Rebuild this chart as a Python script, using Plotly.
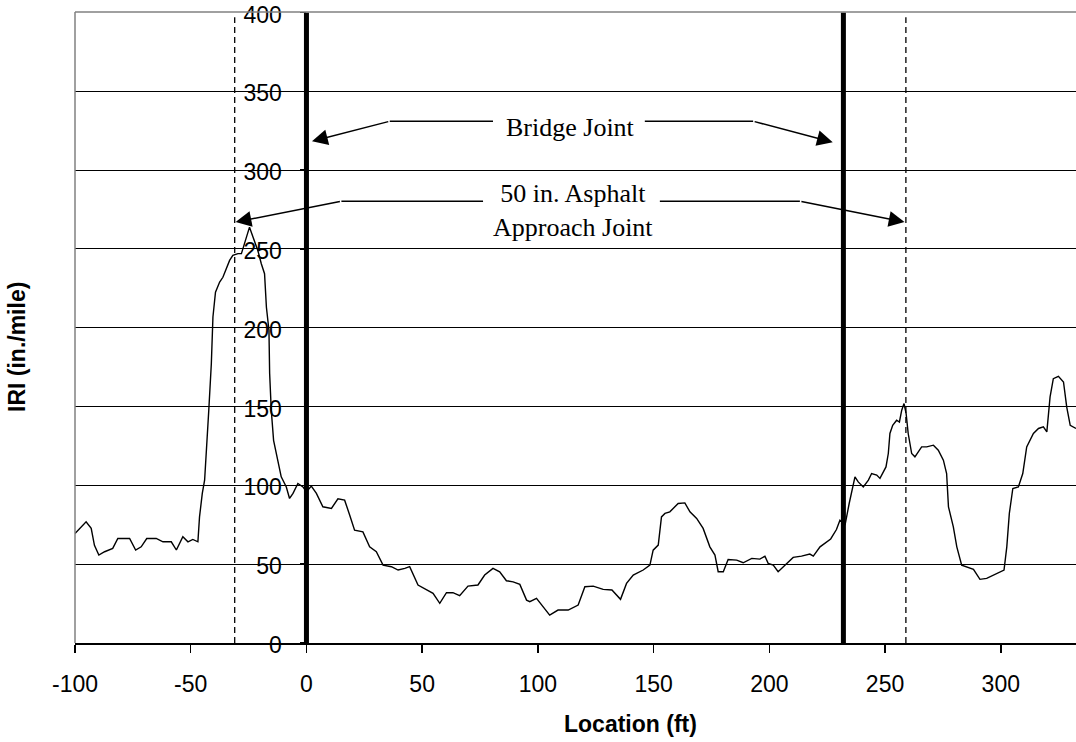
import plotly.graph_objects as go

# ---- data ----
location_ft = [-100, -95.2, -93, -91.6, -89.7, -87.2, -83.7, -81.5, -76.4, -73.8, -71.4, -69, -64.9, -62,
               -58.4, -56.2, -53.4, -51.2, -49.1, -46.9, -46.2, -45, -44, -43.3, -42.2, -41.1, -40.4, -39.3,
               -37.5, -36.1, -34.6, -33.2, -31.8, -29.6, -28.1, -26.7, -25.3, -24.6, -23.1, -21, -19.5, -18.1,
               -17.3, -16.2, -15.9, -15.2, -14.2, -12.3, -10.9, -8.7, -7.3, -5.8, -3.7, -1.5, 0, 2.1, 4.3, 7.1,
               10.8, 13.6, 16.5, 18.7, 20.8, 24.4, 27.3, 30.2, 33.1, 36.7, 39.6, 42.5, 44.6, 48.2, 51.8, 54.7,
               57.6, 60.5, 63.3, 66.2, 69.8, 74.1, 77, 80.6, 83.5, 86.4, 89.3, 92.2, 95.1, 96.5, 99.4, 102.2,
               105.1, 108.7, 113.1, 117.4, 120.3, 123.9, 128.2, 132, 135.7, 138.3, 141.2, 145.5, 148.4, 149.8,
               152, 153.4, 154.9, 157, 160.6, 163.5, 165.7, 168.6, 171.4, 174.3, 176.5, 177.9, 180.1, 182.2,
               185.9, 188.7, 192.4, 195.9, 198.1, 199.5, 201.7, 203.8, 206.7, 210.3, 213.9, 217.5, 219, 221.9,
               226.5, 229, 230.5, 232.7, 234.5, 236, 237, 238.4, 240.6, 242.8, 244.2, 246.4, 247.8, 250.4,
               251.4, 252.1, 253.3, 255, 256.2, 257.2, 258.2, 259.1, 260, 261.5, 262.9, 265.8, 268, 270.9, 273,
               275.2, 276.6, 277.4, 279.5, 281, 283.1, 288.2, 291, 293.9, 298.3, 301.4, 302.6, 303.7, 305.2,
               307.6, 309.5, 311.2, 314.1, 316.3, 318.4, 319.9, 321.3, 322.7, 324.9, 327.1, 328.5, 330, 332.5]
iri = [69.5, 76.9, 72.7, 62, 55.8, 57.9, 60, 66.3, 66.3, 59, 61, 66.3, 66.3, 64.2,
       64.2, 59, 67.4, 64.2, 65.7, 64.2, 80, 94.9, 103.3, 119, 147.7, 177, 206.8, 222.6,
       229, 232, 237.4, 242.7, 245.9, 247, 247, 253.3, 259.6, 263.8, 257.5, 249, 240.6, 234.3,
       213, 198.4, 171, 147.7, 128.6, 116, 105.4, 99, 91.7, 94.9, 101.2, 99, 95.9, 99.5, 94.9, 86.4,
       85.4, 91.5, 90.6, 81.1, 71.6, 70.5, 61, 57.9, 49.4, 48.4, 46.3, 47.3, 48.4, 36.8, 33.6, 31.5,
       25.2, 31.9, 31.9, 30, 36.1, 36.8, 43.1, 47.3, 45.2, 39.5, 38.8, 37.2, 27.2, 26.2, 28.3, 23,
       17.7, 20.9, 20.9, 24.1, 35.7, 36.1, 34, 33.6, 27.7, 37.8, 43.1, 46.3, 49.4, 58.9,
       62.1, 80, 82.2, 83.2, 88.5, 88.9, 83.2, 79, 72.7, 61, 55.8, 45.2, 45.2, 53,
       52.6, 50.9, 53.7, 53.2, 55.1, 50.5, 49.4, 45.2, 49.4, 54.3, 55.1, 56.4, 55.1, 61,
       66, 72, 77.9, 74.8, 88.5, 99, 105.4, 102.2, 99, 103.3, 107.5, 106.5, 104.4, 111.7,
       120.2, 132.9, 138.1, 141.3, 140.2, 147.7, 151.9, 145.6, 132.9, 120.2, 118.1, 124.4, 124.4, 125.5, 122.3,
       116, 107.5, 86.4, 73.7, 61, 49.4, 46.7, 40.4, 41, 44.2, 46.3, 61, 82.2, 98,
       99, 107.5, 124.4, 132.9, 136.1, 137.1, 133.9, 156.1, 167.7, 169.2, 165.6, 149.7, 138.1, 136.1]

bridge_joints = [0, 232]
approach_joints = [-31, 259]
x_ticks = [-100, -50, 0, 50, 100, 150, 200, 250, 300]
x_tick_labels = ["-100", "-50", "0", "50", "100", "150", "200", "250", "300"]
y_ticks = [0, 50, 100, 150, 200, 250, 300, 350, 400]
y_tick_labels = ["0", "50", "100", "150", "200", "250", "300", "350", "400"]

X_RANGE = [-100, 332.5]
Y_RANGE = [0, 400.3]

fig = go.Figure()
fig.add_trace(go.Scatter(x=location_ft, y=iri, mode="lines",
                         line=dict(color="black", width=1.4), showlegend=False,
                         hoverinfo="skip"))

shapes = []
for xv in bridge_joints:
    shapes.append(dict(type="line", xref="x", yref="y", x0=xv, x1=xv, y0=0, y1=400,
                       line=dict(color="black", width=5), layer="above"))
for xv in approach_joints:
    shapes.append(dict(type="line", xref="x", yref="y", x0=xv, x1=xv, y0=0, y1=397,
                       line=dict(color="black", width=1.3, dash="6px,4px"), layer="above"))
# plot-area border (left and top, grey)
shapes.append(dict(type="line", xref="paper", yref="paper", x0=0, x1=0, y0=0, y1=1,
                   line=dict(color="#808080", width=1.5)))
shapes.append(dict(type="line", xref="paper", yref="paper", x0=0, x1=1, y0=1, y1=1,
                   line=dict(color="#808080", width=1.5)))

# label leader lines (horizontal parts)
leaders = [
    (36.0, 80.6, 331), (146.2, 193.0, 331),
    (15.1, 76.3, 280.3), (152.7, 213.2, 280.3),
]
for x0, x1, yv in leaders:
    shapes.append(dict(type="line", xref="x", yref="y", x0=x0, x1=x1, y0=yv, y1=yv,
                       line=dict(color="black", width=1.5)))

annotations = []
# arrows: (tip_x, tip_y, corner_x, corner_y)
arrows = [
    (2.4, 318.3, 36.0, 331),
    (227.4, 317.7, 193.0, 331),
    (-30.6, 267, 15.1, 280.3),
    (258.4, 267, 213.2, 280.3),
]
for tx, ty, cx, cy in arrows:
    annotations.append(dict(x=tx, y=ty, ax=cx, ay=cy, xref="x", yref="y", axref="x", ayref="y",
                            text="", showarrow=True, arrowhead=2, arrowsize=2.1, arrowwidth=1.5,
                            arrowcolor="black"))

serif = dict(family="Liberation Serif, Times New Roman, serif", size=26, color="black")
annotations.append(dict(x=114.2, y=327.2, xref="x", yref="y", text="Bridge Joint",
                        showarrow=False, font=serif))
annotations.append(dict(x=115.3, y=274.4, xref="x", yref="y",
                        text="50 in. Asphalt<br>Approach Joint",
                        showarrow=False, font=serif))

sans_bold = dict(family="Liberation Sans, Arial, sans-serif", size=23, color="black")
annotations.append(dict(x=-0.058, y=0.469, xref="paper", yref="paper", text="<b>IRI (in./mile)</b>",
                        textangle=-90, showarrow=False, font=sans_bold,
                        xanchor="center", yanchor="middle"))
annotations.append(dict(x=0.555, y=-0.128, xref="paper", yref="paper", text="<b>Location (ft)</b>",
                        showarrow=False, font=sans_bold, xanchor="center", yanchor="middle"))

fig.update_layout(
    width=1076, height=742,
    margin=dict(l=75, r=0, t=12, b=99, autoexpand=False),
    paper_bgcolor="white", plot_bgcolor="white",
    font=dict(family="Liberation Sans, Arial, sans-serif", size=23, color="black"),
    shapes=shapes, annotations=annotations,
    xaxis=dict(range=X_RANGE, tickvals=x_ticks, ticktext=x_tick_labels, ticks="outside",
               ticklen=8, tickwidth=1.5, automargin=False,
               tickcolor="black", showline=True, linecolor="black", linewidth=2,
               showgrid=False, zeroline=False, ticklabelstandoff=11,
               ticklabeloverflow="allow", tickfont=dict(size=23)),
    yaxis=dict(range=Y_RANGE, tickvals=y_ticks, ticktext=y_tick_labels, ticks="outside",
               ticklen=6, tickwidth=1.5, automargin=False,
               tickcolor="black", showline=False, showgrid=True, gridcolor="black", gridwidth=1,
               zeroline=False, anchor="free",
               position=(0 - X_RANGE[0]) / (X_RANGE[1] - X_RANGE[0]),
               ticklabelstandoff=14, ticklabelshift=2, ticklabeloverflow="allow",
               tickfont=dict(size=23)),
)

# remove the default 8px page margin so the figure fills the window exactly
fig.write_html("out.html",
               config={"displayModeBar": False, "staticPlot": True},
               post_script="document.body.style.margin='0';document.body.style.overflow='hidden';")
